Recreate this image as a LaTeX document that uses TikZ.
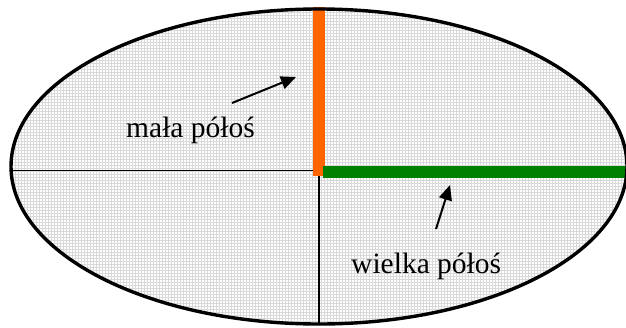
\documentclass[tikz,border=0pt]{standalone}
\usepackage{fontspec}
\setmainfont{Liberation Serif}
\usetikzlibrary{patterns,arrows.meta}
\begin{document}
\begin{tikzpicture}[x=1pt,y=-1pt,
  outline/.style={line width=3.4pt,draw=black},
  axisline/.style={line width=1.3pt,draw=black},
  minorbar/.style={line width=12pt,draw={rgb,255:red,255;green,102;blue,0}},
  majorbar/.style={line width=12pt,draw={rgb,255:red,0;green,128;blue,0}},
  pointer/.style={line width=2pt,-{Triangle[length=15pt,width=13pt]}},
  lbl/.style={font=\fontsize{29.5}{35}\selectfont,inner sep=0pt,anchor=base west}]
\useasboundingbox (0,0) rectangle (626,327);
\coordinate (C) at (319,170.5);
\coordinate (L) at (12,170.5);
\coordinate (B) at (319,324);
\coordinate (T) at (319,7);
\coordinate (Cb) at (319,176);
\coordinate (G0) at (323,171.5);
\coordinate (G1) at (630,171.5);
\begin{scope}
\clip (0,0) rectangle (626,327);
\fill[white] (319,166.5) ellipse [x radius=308,y radius=157.5];
\fill[pattern=grid,pattern color=black!15] (319,166.5) ellipse [x radius=308,y radius=157.5];
\draw[axisline] (L) -- (C);
\draw[axisline] (C) -- (B);
\draw[minorbar] (T) -- (Cb);
\draw[majorbar] (G0) -- (G1);
\draw[outline] (319,166.5) ellipse [x radius=308,y radius=157.5];
\end{scope}
\node[lbl] (mala) at (126,137) {mała półoś};
\node[lbl] (wielka) at (351,273) {wielka półoś};
\coordinate (a1s) at (232,103);
\coordinate (a1e) at (296,77);
\coordinate (a2s) at (436,229);
\coordinate (a2e) at (450,185);
\draw[pointer] (a1s) -- (a1e);
\draw[pointer] (a2s) -- (a2e);
\end{tikzpicture}
\end{document}
